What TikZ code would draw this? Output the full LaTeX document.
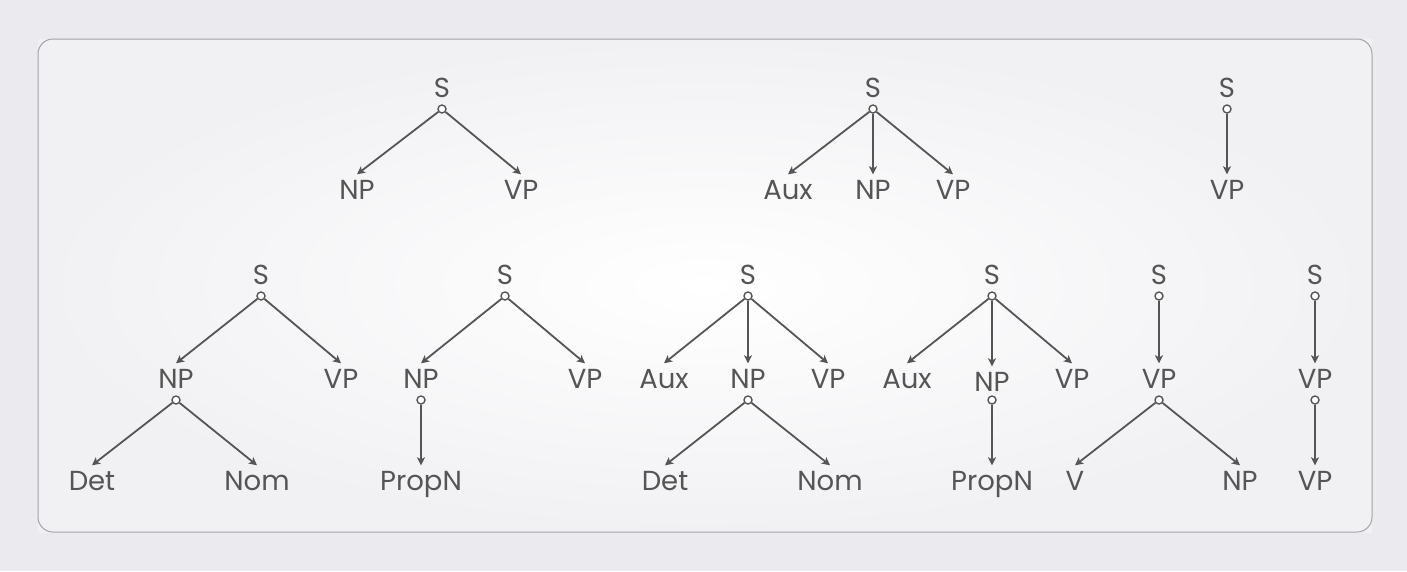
\documentclass[tikz,border=0pt]{standalone}
\usepackage{fontspec}
\setmainfont{Poppins}
\usetikzlibrary{arrows.meta}
\definecolor{ink}{HTML}{555555}
\definecolor{paper}{HTML}{EBEBEF}
\definecolor{frame}{HTML}{A3A3A8}
\tikzset{cat/.style={font=\fontsize{27.5}{27.5}\selectfont, text=ink, text height=19pt, text depth=0pt, inner xsep=0pt, inner ysep=6pt}}
\tikzset{hub/.style={circle, draw=ink, fill=white, line width=1.4pt, minimum size=8pt, inner sep=0pt}}
\tikzset{arr/.style={draw=ink, line width=1.8pt, -{Stealth[length=8pt,width=8pt,inset=2pt]}}}

\begin{document}
\begin{tikzpicture}[x=1pt,y=-1pt]
          \useasboundingbox (0,0) rectangle (1407,571);
          \fill[paper] (0,0) rectangle (1407,571);
          \shade[inner color=white, outer color=paper!70!white] (38,39) rectangle (1372,532);
          \draw[frame, line width=1pt, rounded corners=15pt] (38,39) rectangle (1372,532);
          % S -> NP VP
          \node[cat] (s1) at (442,88) {S};
          \node[hub] (s1h) at (442,109) {};
          \node[cat] (s1np) at (357,190) {NP};
          \node[cat] (s1vp) at (521,190) {VP};
          \draw[arr] (s1h) -- (s1np.north);
          \draw[arr] (s1h) -- (s1vp.north);
          % S -> Aux NP VP
          \node[cat] (s2) at (873,88) {S};
          \node[hub] (s2h) at (873,109) {};
          \node[cat] (s2aux) at (788,190) {Aux};
          \node[cat] (s2np) at (873,190) {NP};
          \node[cat] (s2vp) at (953,190) {VP};
          \draw[arr] (s2h) -- (s2aux.north);
          \draw[arr] (s2h) -- (s2np.north);
          \draw[arr] (s2h) -- (s2vp.north);
          % S -> VP
          \node[cat] (s3) at (1227,88) {S};
          \node[hub] (s3h) at (1227,109) {};
          \node[cat] (s3vp) at (1227,190) {VP};
          \draw[arr] (s3h) -- (s3vp.north);
          % S -> NP VP, NP -> Det Nom
          \node[cat] (s4) at (261,275) {S};
          \node[hub] (s4h) at (261,296) {};
          \node[cat] (s4np) at (176,379) {NP};
          \node[cat] (s4vp) at (341,379) {VP};
          \node[hub] (s4nph) at (176,400) {};
          \node[cat] (s4det) at (92,481) {Det};
          \node[cat] (s4nom) at (257,481) {Nom};
          \draw[arr] (s4h) -- (s4np.north);
          \draw[arr] (s4h) -- (s4vp.north);
          \draw[arr] (s4nph) -- (s4det.north);
          \draw[arr] (s4nph) -- (s4nom.north);
          % S -> NP VP, NP -> PropN
          \node[cat] (s5) at (505,275) {S};
          \node[hub] (s5h) at (505,296) {};
          \node[cat] (s5np) at (421,379) {NP};
          \node[cat] (s5vp) at (585,379) {VP};
          \node[hub] (s5nph) at (421,400) {};
          \node[cat] (s5pn) at (421,481) {PropN};
          \draw[arr] (s5h) -- (s5np.north);
          \draw[arr] (s5h) -- (s5vp.north);
          \draw[arr] (s5nph) -- (s5pn.north);
          % S -> Aux NP VP, NP -> Det Nom
          \node[cat] (s6) at (748,275) {S};
          \node[hub] (s6h) at (748,296) {};
          \node[cat] (s6aux) at (664,379) {Aux};
          \node[cat] (s6np) at (748,379) {NP};
          \node[cat] (s6vp) at (828,379) {VP};
          \node[hub] (s6nph) at (748,400) {};
          \node[cat] (s6det) at (665,481) {Det};
          \node[cat] (s6nom) at (830,481) {Nom};
          \draw[arr] (s6h) -- (s6aux.north);
          \draw[arr] (s6h) -- (s6np.north);
          \draw[arr] (s6h) -- (s6vp.north);
          \draw[arr] (s6nph) -- (s6det.north);
          \draw[arr] (s6nph) -- (s6nom.north);
          % S -> Aux NP VP, NP -> PropN
          \node[cat] (s7) at (992,275) {S};
          \node[hub] (s7h) at (992,296) {};
          \node[cat] (s7aux) at (907,379) {Aux};
          \node[cat] (s7np) at (992,382) {NP};
          \node[cat] (s7vp) at (1072,379) {VP};
          \node[hub] (s7nph) at (992,400) {};
          \node[cat] (s7pn) at (992,481) {PropN};
          \draw[arr] (s7h) -- (s7aux.north);
          \draw[arr] (s7h) -- (s7np.north);
          \draw[arr] (s7h) -- (s7vp.north);
          \draw[arr] (s7nph) -- (s7pn.north);
          % S -> VP, VP -> V NP
          \node[cat] (s8) at (1159,275) {S};
          \node[hub] (s8h) at (1159,296) {};
          \node[cat] (s8vp) at (1159,379) {VP};
          \node[hub] (s8vph) at (1159,400) {};
          \node[cat] (s8v) at (1075,481) {V};
          \node[cat] (s8np) at (1240,481) {NP};
          \draw[arr] (s8h) -- (s8vp.north);
          \draw[arr] (s8vph) -- (s8v.north);
          \draw[arr] (s8vph) -- (s8np.north);
          % S -> VP, VP -> VP
          \node[cat] (s9) at (1315,275) {S};
          \node[hub] (s9h) at (1315,296) {};
          \node[cat] (s9vp) at (1315,379) {VP};
          \node[hub] (s9vph) at (1315,400) {};
          \node[cat] (s9vpb) at (1315,481) {VP};
          \draw[arr] (s9h) -- (s9vp.north);
          \draw[arr] (s9vph) -- (s9vpb.north);
        \end{tikzpicture}
\end{document}
